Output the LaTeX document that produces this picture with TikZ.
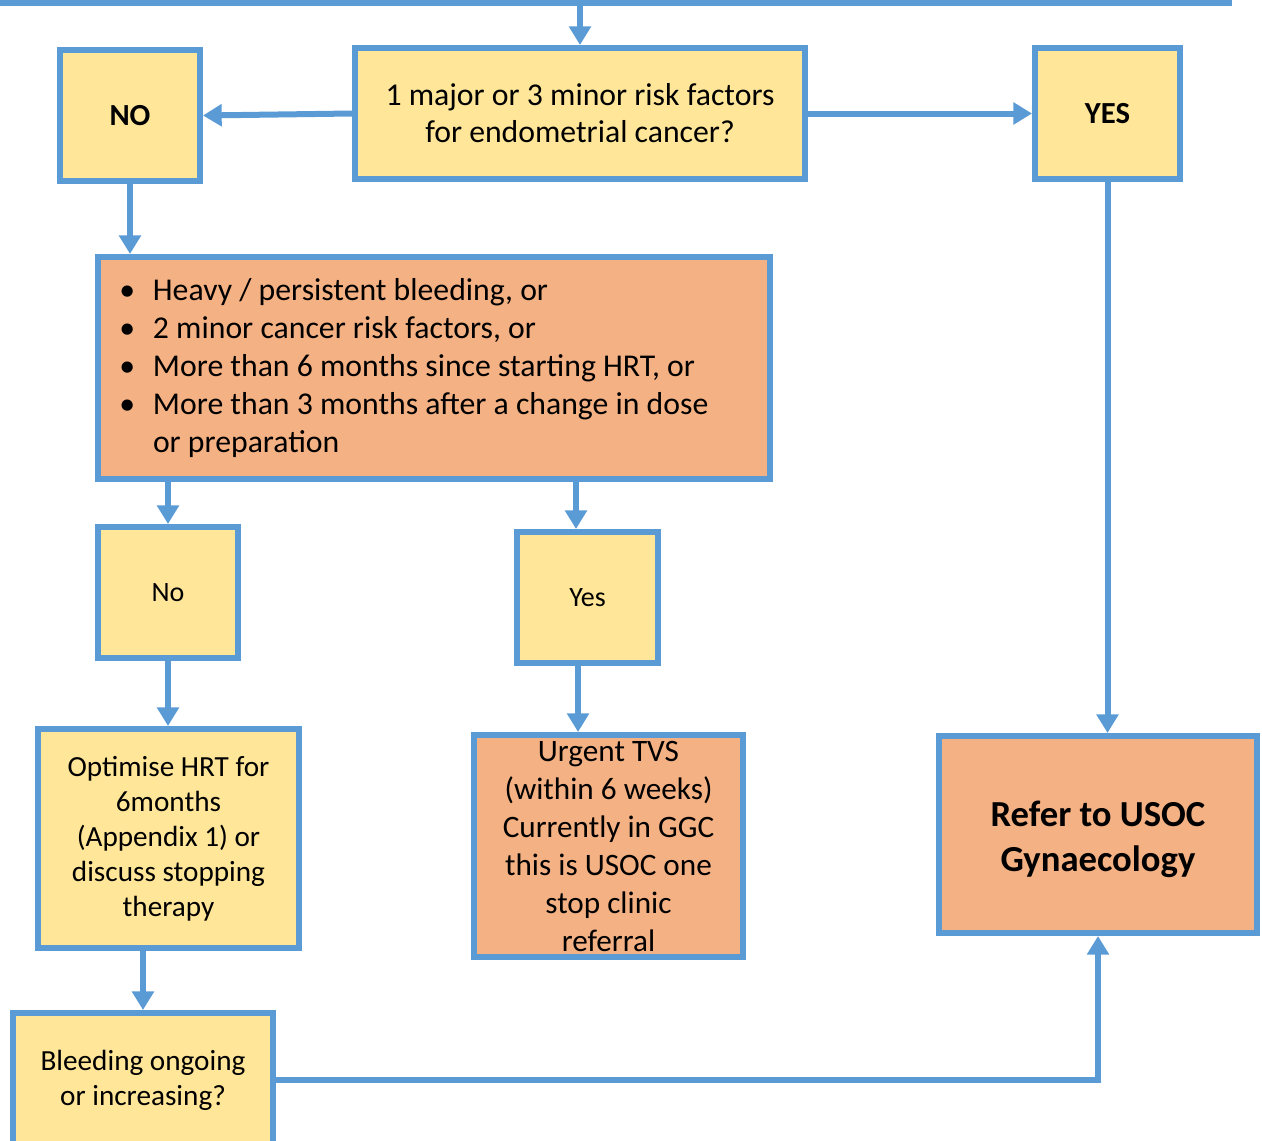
\documentclass[tikz,border=0pt]{standalone}
\usepackage{fontspec}
\setmainfont{Carlito}
\usetikzlibrary{arrows.meta,calc}
\definecolor{bblue}{HTML}{5B9BD5}
\definecolor{byellow}{HTML}{FFE699}
\definecolor{borange}{HTML}{F4B183}
\newcommand\fsbig{\fontsize{23.8pt}{27.75pt}\selectfont}
\newcommand\fslist{\fontsize{23.8pt}{28.5pt}\selectfont}
\newcommand\fsmid{\fontsize{21.9pt}{26.25pt}\selectfont}
\newcommand\fsurg{\fontsize{23.4pt}{28.5pt}\selectfont}
\newcommand\fsyn{\fontsize{21pt}{25pt}\selectfont}
\newcommand\fslab{\fontsize{23pt}{27pt}\selectfont\bfseries}
\newcommand\fsref{\fontsize{27.5pt}{33.75pt}\selectfont\bfseries}
\newcommand\bul{\makebox[26.25pt][l]{\hspace{1pt}\textbullet}}
\begin{document}
\begin{tikzpicture}[x=0.75pt,y=-0.75pt,
  box/.style={draw=bblue,line width=4.5pt,rectangle,inner sep=0pt,align=center,text=black},
  ybox/.style={box,fill=byellow},
  obox/.style={box,fill=borange},
  arr/.style={draw=bblue,line width=4.5pt,-{Triangle[length=14pt,width=16pt]}}]
\useasboundingbox (0,0) rectangle (1262,1140);
% top (cut-off) box
\node[box,minimum width={1249*0.75pt},minimum height={203*0.75pt}] (top) at (604.5,-98.5) {};
% question
\node[ybox,minimum width={450*0.75pt},minimum height={131*0.75pt},font=\fsbig] (q) at (580,113.5)
  {1 major or 3 minor risk factors\\for endometrial cancer?};
\node[ybox,minimum width={140*0.75pt},minimum height={131*0.75pt},font=\fslab] (nobig) at (130,115.5) {NO};
\node[ybox,minimum width={145*0.75pt},minimum height={131*0.75pt},font=\fslab] (yesbig) at (1107.5,113.5) {YES};
% bullet box
\node[obox,minimum width={672*0.75pt},minimum height={222*0.75pt},text width={632*0.75pt},
  inner xsep=15pt,align=flush left,font=\fslist] (b) at (434,368)
  {\bul Heavy / persistent bleeding, or\\
   \bul 2 minor cancer risk factors, or\\
   \bul More than 6 months since starting HRT, or\\
   \bul More than 3 months after a change in dose\\
   \hspace*{26.25pt}or preparation};
\node[ybox,minimum width={140*0.75pt},minimum height={131*0.75pt},font=\fsyn] (no) at (168,592.5) {No};
\node[ybox,minimum width={141*0.75pt},minimum height={131*0.75pt},font=\fsyn] (yes) at (587.5,597.5) {Yes};
\node[ybox,minimum width={261*0.75pt},minimum height={219*0.75pt},font=\fsmid] (o) at (168.5,838.5)
  {Optimise HRT for\\6months\\(Appendix 1) or\\discuss stopping\\therapy};
\node[obox,minimum width={269*0.75pt},minimum height={222*0.75pt},font=\fsurg] (u) at (608.5,846)
  {Urgent TVS\\(within 6 weeks)\\Currently in GGC\\this is USOC one\\stop clinic\\referral};
\node[obox,minimum width={318*0.75pt},minimum height={197*0.75pt},font=\fsref] (r) at (1098,834.5)
  {\rule{0pt}{26pt}Refer to USOC\\Gynaecology};
\node[ybox,minimum width={260*0.75pt},minimum height={134*0.75pt},font=\fsmid] (l) at (143,1080)
  {Bleeding ongoing\\or increasing?};
% connectors
\coordinate (ys) at ([xshift=106.5pt]b.south);
\coordinate (us) at ([xshift=-7.1pt]yes.south);
\draw[arr] (q.north |- top.south) -- (q.north);
\draw[arr] (q.west) -- (nobig.east);
\draw[arr] (q.east) -- (yesbig.west);
\draw[arr] (nobig.south) -- (nobig.south |- b.north);
\draw[arr] (yesbig.south) -- (yesbig.south |- r.north);
\draw[arr] (no.north |- b.south) -- (no.north);
\draw[arr] (ys) -- (ys |- yes.north);
\draw[arr] (no.south) -- (no.south |- o.north);
\draw[arr] (us) -- (us |- u.north);
\draw[arr] (l.north |- o.south) -- (l.north);
\draw[arr] (l.east) -| (r.south);
\end{tikzpicture}
\end{document}
